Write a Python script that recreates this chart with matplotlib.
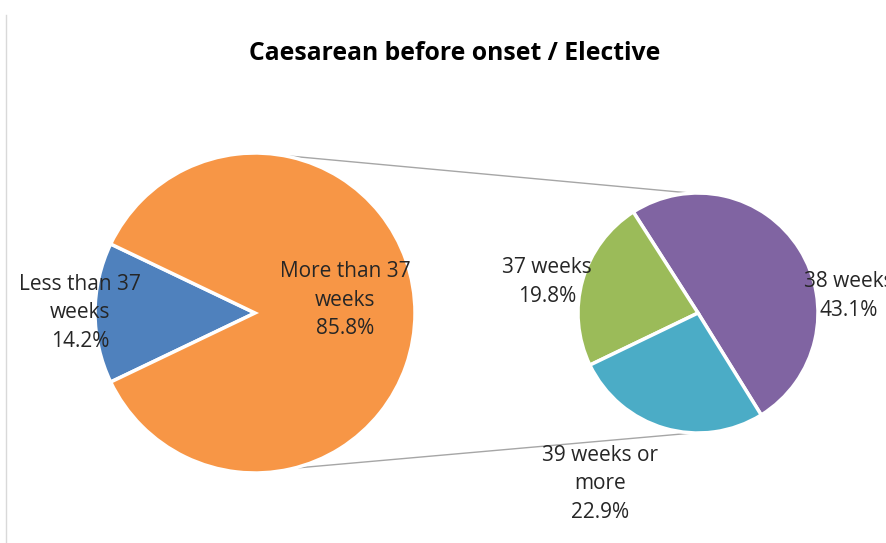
import numpy as np
import matplotlib.pyplot as plt
from matplotlib.lines import Line2D

# main pie
main_labels = ["Less than 37\nweeks", "More than 37\nweeks"]
main_values = [14.2, 85.8]
main_colors = ["#4F81BD", "#F79646"]

# breakdown of "More than 37 weeks"
sub_labels = ["38 weeks", "37 weeks", "39 weeks or\nmore"]
sub_values = [43.1, 19.8, 22.9]
sub_colors = ["#8064A2", "#9BBB59", "#4BACC6"]

W, H = 887, 543
fig = plt.figure(figsize=(W / 100, H / 100), dpi=100)
ax = fig.add_axes([0, 0, 1, 1])

font = "Open Sans"
fs = 15
ls = 1.45

c1, r1 = (255, 230), 160
c2, r2 = (698, 230), 120

blue_span = main_values[0] / sum(main_values) * 360
start1 = 180 - blue_span / 2
ax.pie(main_values, colors=main_colors, center=c1, radius=r1,
       startangle=start1, counterclock=True,
       wedgeprops=dict(edgecolor="white", linewidth=2.5), frame=True)

start2 = -58.2
ax.pie(sub_values, colors=sub_colors, center=c2, radius=r2,
       startangle=start2, counterclock=True,
       wedgeprops=dict(edgecolor="white", linewidth=2.5), frame=True)
ax.set_xlim(0, W)
ax.set_ylim(0, H)
ax.set_aspect("equal")
ax.axis("off")

# connector lines
a_top, a_bot = np.radians(80), np.radians(-76)
b_top, b_bot = np.radians(93), np.radians(-92)
for a, b in [(a_top, b_top), (a_bot, b_bot)]:
    ax.plot([c1[0] + r1 * np.cos(a), c2[0] + r2 * np.cos(b)],
            [c1[1] + r1 * np.sin(a), c2[1] + r2 * np.sin(b)],
            color="#A6A6A6", lw=1.0, zorder=0)

# data labels
kw = dict(ha="center", va="center", fontsize=fs, family=font,
          color="#262626", linespacing=ls)
ax.text(80, 230, f"{main_labels[0]}\n{main_values[0]}%", **kw)
ax.text(345, 243, f"{main_labels[1]}\n{main_values[1]}%", **kw)
ax.text(547, 261, f"{sub_labels[1]}\n{sub_values[1]}%", **kw)
ax.text(849, 247, f"{sub_labels[0]}\n{sub_values[0]}%", **kw)
ax.text(600, 59, f"{sub_labels[2]}\n{sub_values[2]}%", **kw)

fig.text(455 / W, 1 - 53 / H, "Caesarean before onset / Elective", ha="center", va="center",
         fontsize=17.8, fontweight="bold", family=font, color="black")

# chart border on the left
fig.add_artist(Line2D([6 / W, 6 / W], [0, 1 - 15 / H], color="#D9D9D9", lw=1))

fig.savefig("out.png", dpi=100, facecolor="white")
